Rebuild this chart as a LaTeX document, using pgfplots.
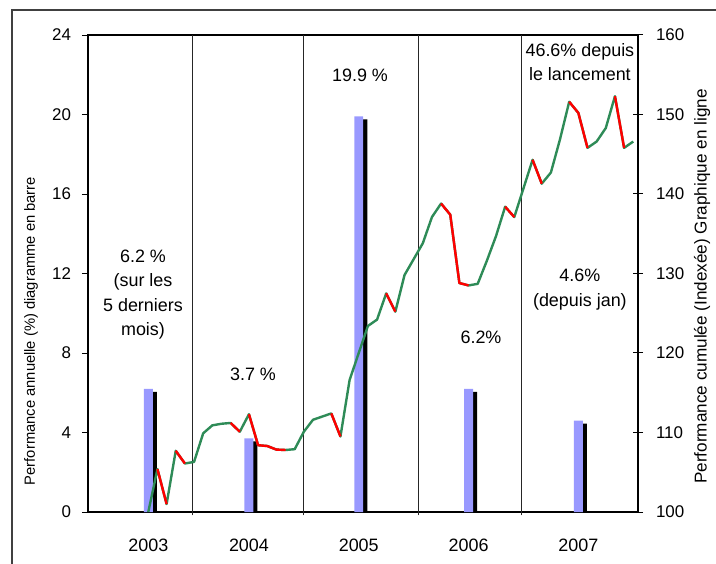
\documentclass[border=0pt]{standalone}
\usepackage{pgfplots}
\pgfplotsset{compat=1.18}
\usepackage{pgfplotstable}
\usepackage{fontspec}
\setmainfont{Liberation Sans}
\definecolor{barblue}{HTML}{9999FF}
\definecolor{lgreen}{HTML}{2E8B57}
\definecolor{lred}{HTML}{FF0000}

\pgfplotstableread{
i v
0 100.0
1 105.4
2 101.0
3 107.7
4 106.1
5 106.3
6 109.9
7 110.9
8 111.1
9 111.2
10 110.1
11 112.3
12 108.4
13 108.3
14 107.85
15 107.8
16 107.9
17 110.1
18 111.6
19 112.0
20 112.4
21 109.5
22 116.6
23 120.0
24 123.4
25 124.2
26 127.5
27 125.2
28 129.8
29 131.8
30 133.8
31 137.1
32 138.8
33 137.4
34 128.8
35 128.5
36 128.7
37 131.6
38 134.7
39 138.4
40 137.1
41 140.7
42 144.3
43 141.3
44 142.7
45 146.9
46 151.6
47 150.2
48 145.8
49 146.6
50 148.3
51 152.3
52 145.8
53 146.6
}\linedata

\pgfplotstableread{
x v
0 6.2
11 3.7
23 19.9
35 6.2
47 4.6
}\bardata

\pgfplotstableread{
x v
0.44 6.05
11.44 3.55
23.44 19.75
35.44 6.05
47.44 4.45
}\shadowdata

\begin{document}
\begin{tikzpicture}[x=1bp,y=1bp]
\useasboundingbox (-44,-26) rectangle (314,256);
\draw[black!75, line width=0.8bp] (-38,-30) -- (-38,251) -- (320,251);
\begin{axis}[
  at={(0,0)}, anchor=south west,
  scale only axis, width=275bp, height=238.5bp,
  xmin=-6.59, xmax=53.52, ymin=0, ymax=24,
  ytick={0,4,...,24},
  ytick pos=left, xtick pos=bottom,
  xtick={0,11,23,35,47},
  xticklabels={2003,2004,2005,2006,2007},
  xtick style={draw=none},
  ytick style={black, line width=0.5bp},
  tick align=outside,
  major tick length=3bp,
  axis line style={black, line width=0.6bp},
  clip=false,
  /pgf/number format/assume math mode=true,
  yticklabel style={font=\fontsize{8.5}{10}\selectfont, xshift=-2bp},
  xticklabel style={font=\fontsize{9}{11}\selectfont, yshift=-7bp},
]
\addplot[ybar, bar width=0.98, bar shift=0pt, fill=black, draw=none] table[x=x,y=v] {\shadowdata};
\addplot[ybar, bar width=0.98, bar shift=0pt, fill=barblue, draw=none] table[x=x,y=v] {\bardata};
\foreach \s in {4.8,17.0,29.5,40.8} {
  \edef\tmp{\noexpand\draw[black!85, line width=0.5bp] (axis cs:\s,-0.17) -- (axis cs:\s,24);}
  \tmp
}
\begin{scope}[font=\fontsize{9}{12.25}\selectfont]
\node[align=center] at (axis cs:-0.58,10.94) {6.2 \%\\(sur les\\5 derniers\\mois)};
\node at (axis cs:11.44,6.94) {3.7 \%};
\node at (axis cs:23.14,21.99) {19.9 \%};
\node[align=center] at (axis cs:47.17,22.64) {46.6\% depuis\\le lancement};
\node at (axis cs:36.36,8.8) {6.2\%};
\node[align=center] at (axis cs:47.17,11.2) {4.6\%\\(depuis jan)};
\end{scope}
\end{axis}
\begin{axis}[
  at={(0,0)}, anchor=south west,
  scale only axis, width=275bp, height=238.5bp,
  xmin=-6.59, xmax=53.52, ymin=100, ymax=160,
  ytick={100,110,...,160},
  axis y line*=right, axis x line=none,
  tick align=center, major tick length=5bp,
  ytick style={black, line width=0.5bp},
  axis line style={black, line width=0.6bp},
  /pgf/number format/assume math mode=true,
  yticklabel style={font=\fontsize{8.5}{10}\selectfont, xshift=3bp},
]
\addplot[lgreen, line width=1.2bp, line join=round] table[x=i,y=v] {\linedata};
\foreach \a/\b in {1/2,3/4,9/10,11/15,20/21,26/27,32/35,39/40,42/43,46/48,51/52} {
  \edef\tmp{\noexpand\addplot[lred, line width=1.2bp, line join=round, restrict x to domain=\a:\b] table[x=i,y=v] {\noexpand\linedata};}
  \tmp
}
\end{axis}
\node[rotate=90, font=\fontsize{7.4}{9}\selectfont] at (-28.5,90.5) {Performance annuelle (\%) diagramme en barre};
\node[rotate=90, font=\fontsize{8.6}{10}\selectfont] at (307,112.75) {Performance cumulée (Indexée) Graphique en ligne};
\end{tikzpicture}
\end{document}
